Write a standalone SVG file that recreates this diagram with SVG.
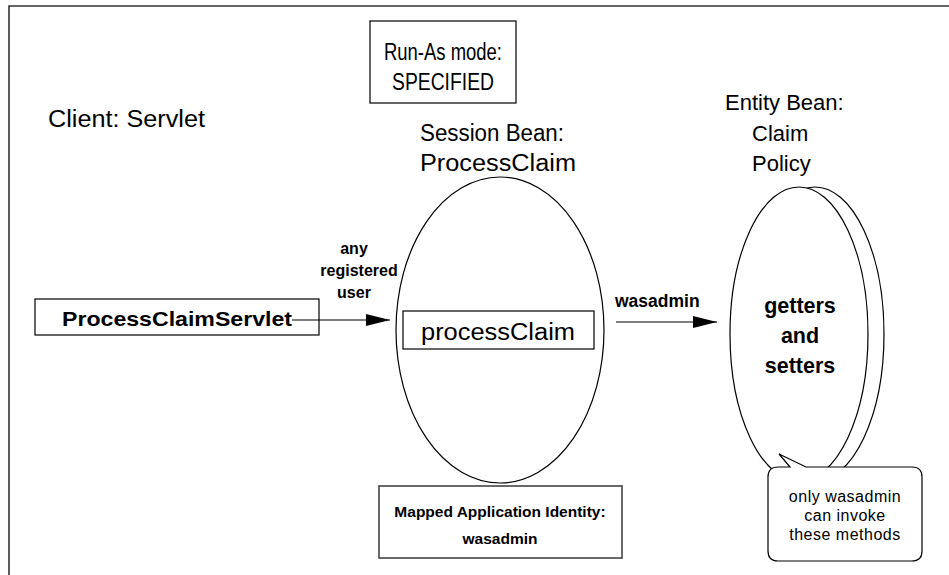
<svg xmlns="http://www.w3.org/2000/svg" width="949" height="575" viewBox="0 0 949 575">
<style>
text{font-family:"Liberation Sans",Arial,Helvetica,sans-serif;fill:#000}
.lbl{font-size:23px}
.b{font-weight:bold}
.box{fill:#fff;stroke:#000;stroke-width:1.2}
.gbox{fill:#fff;stroke:#444;stroke-width:1.6}
.ell{fill:#fff;stroke:#000;stroke-width:1.2}
.conn{stroke:#000;stroke-width:1.2;fill:none}
</style>
<defs>
<marker id="ah" markerWidth="24" markerHeight="12" refX="24" refY="6" orient="auto" markerUnits="userSpaceOnUse">
<path d="M0,0 L24,6 L0,12 Z" fill="#000"/>
</marker>
</defs>
<rect width="949" height="575" fill="#fff"/>
<path d="M9,575 V6 H949" fill="none" stroke="#333" stroke-width="1.6"/>

<g id="runas">
<rect class="box" x="370" y="21" width="146" height="82"/>
<text x="443" y="60" font-size="23" text-anchor="middle" textLength="118" lengthAdjust="spacingAndGlyphs">Run-As mode:</text>
<text x="443" y="90" font-size="23" text-anchor="middle" textLength="102" lengthAdjust="spacingAndGlyphs">SPECIFIED</text>
</g>

<g id="client-label">
<text class="lbl" x="48" y="127" textLength="157" lengthAdjust="spacingAndGlyphs">Client: Servlet</text>
</g>

<g id="servlet">
<rect class="box" x="35" y="299" width="284" height="36"/>
<text class="b" x="62" y="326" font-size="21" textLength="230" lengthAdjust="spacingAndGlyphs">ProcessClaimServlet</text>
</g>

<g id="session">
<text class="lbl" x="420" y="141" textLength="144" lengthAdjust="spacingAndGlyphs">Session Bean:</text>
<text class="lbl" x="420" y="171" textLength="156" lengthAdjust="spacingAndGlyphs">ProcessClaim</text>
<ellipse class="ell" cx="500" cy="330" rx="104" ry="153"/>
<rect class="box" x="403" y="311" width="191" height="38"/>
<text class="lbl" x="421" y="340" textLength="154" lengthAdjust="spacingAndGlyphs">processClaim</text>
</g>

<g id="entity">
<text x="725" y="110" font-size="22">Entity Bean:</text>
<text x="752" y="141" font-size="22">Claim</text>
<text x="752" y="171" font-size="22">Policy</text>
<ellipse class="ell" cx="815" cy="334" rx="69" ry="147"/>
<ellipse class="ell" cx="799" cy="334" rx="69" ry="147"/>
<text class="b" x="800" y="313" font-size="21.5" text-anchor="middle">getters</text>
<text class="b" x="800" y="343" font-size="21.5" text-anchor="middle">and</text>
<text class="b" x="800" y="373" font-size="21.5" text-anchor="middle">setters</text>
</g>

<g id="note">
<path class="box" d="M790,467 L779,454 L806,467 H912 Q922,467 922,477 V551 Q922,561 912,561 H778 Q768,561 768,551 V477 Q768,467 778,467 Z"/>
<text x="845" y="502" font-size="16" text-anchor="middle" letter-spacing="0.5">only wasadmin</text>
<text x="845" y="521" font-size="16" text-anchor="middle" letter-spacing="0.5">can invoke</text>
<text x="845" y="540" font-size="16" text-anchor="middle" letter-spacing="0.5">these methods</text>
</g>

<g id="mapped">
<rect class="gbox" x="379" y="486" width="243" height="72"/>
<text class="b" x="500" y="517" font-size="15.5" text-anchor="middle">Mapped Application Identity:</text>
<text class="b" x="500" y="544" font-size="15.5" text-anchor="middle">wasadmin</text>
</g>

<g id="connectors">
<line class="conn" x1="292" y1="320" x2="390" y2="320" marker-end="url(#ah)"/>
<text class="b" x="354" y="254" font-size="16" text-anchor="middle">any</text>
<text class="b" x="359" y="276" font-size="16" text-anchor="middle">registered</text>
<text class="b" x="354" y="298" font-size="16" text-anchor="middle">user</text>
<line class="conn" x1="616" y1="322" x2="717" y2="322" marker-end="url(#ah)"/>
<text class="b" x="615" y="307" font-size="17.5">wasadmin</text>
</g>
</svg>
